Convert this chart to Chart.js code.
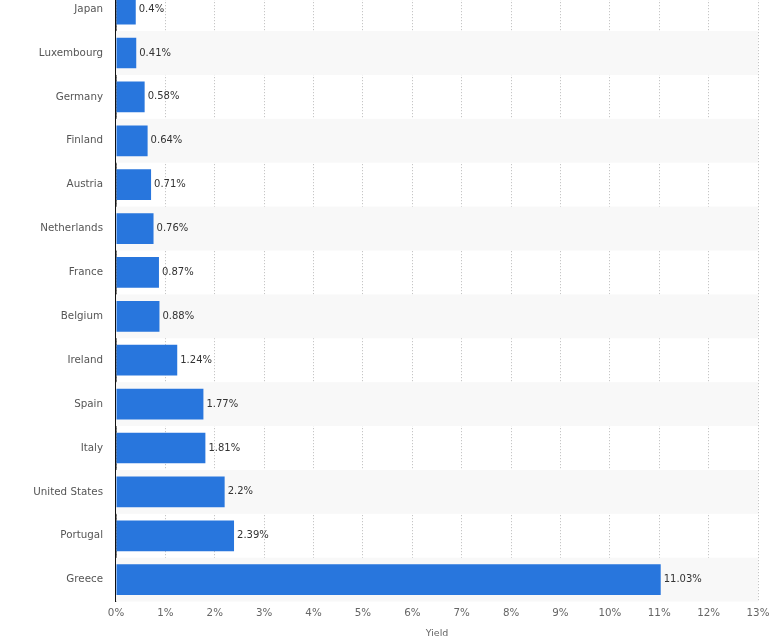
<!DOCTYPE html>
<html>
<head>
<meta charset="utf-8">
<script src="https://cdn.jsdelivr.net/npm/chart.js@4/dist/chart.umd.min.js"></script>
<style>
  html, body { margin:0; padding:0; background:#fff; overflow:hidden; width:784px; height:637px; }
  #wrap { position:absolute; left:0; top:-32px; width:784px; height:671px; }
</style>
</head>
<body>
<div id="wrap"><canvas id="c" width="784" height="671"></canvas></div>
<script>
const countries = ['Japan','Luxembourg','Germany','Finland','Austria','Netherlands','France','Belgium','Ireland','Spain','Italy','United States','Portugal','Greece'];
const yields = [0.4, 0.41, 0.58, 0.64, 0.71, 0.76, 0.87, 0.88, 1.24, 1.77, 1.81, 2.2, 2.39, 11.03];
const xMax = 13;
const FONT = '"DejaVu Sans", Verdana, sans-serif';

// alternating row stripes behind the bars
const stripes = {
  id:'stripes',
  beforeDatasetsDraw(chart){
    const {ctx, chartArea, scales:{y}} = chart;
    const band = Math.abs(y.getPixelForValue(1) - y.getPixelForValue(0));
    ctx.save();
    ctx.fillStyle = '#f8f8f8';
    countries.forEach((c,i)=>{
      if(i % 2 === 1){
        const cy = y.getPixelForValue(i);
        ctx.fillRect(chartArea.left, cy - band/2, chartArea.right - chartArea.left, band);
      }
    });
    ctx.restore();
  }
};

// value labels at bar ends
const valueLabels = {
  id:'valueLabels',
  afterDatasetsDraw(chart){
    const {ctx} = chart;
    const meta = chart.getDatasetMeta(0);
    ctx.save();
    ctx.font = '10px ' + FONT;
    ctx.fillStyle = '#333';
    ctx.textAlign = 'left';
    ctx.textBaseline = 'middle';
    meta.data.forEach((bar,i)=>{
      ctx.fillText(yields[i] + '%', bar.x + 3, bar.y);
    });
    ctx.restore();
  }
};

new Chart(document.getElementById('c').getContext('2d'), {
  type:'bar',
  data:{labels:countries, datasets:[{data:yields, backgroundColor:'#2876dd', borderWidth:0, barPercentage:0.7, categoryPercentage:1}]},
  options:{
    indexAxis:'y',
    responsive:false,
    animation:false,
    layout:{padding:{left:0, right:26, top:0, bottom:0}},
    plugins:{legend:{display:false}, tooltip:{enabled:false}},
    scales:{
      x:{
        min:0, max:xMax,
        afterFit(s){ s.height = 37.4; },
        ticks:{stepSize:1, padding:6, color:'#666', font:{size:10.3, family:FONT}, callback:v=>v+'%'},
        grid:{color:'#bbb', drawTicks:false, lineWidth:1},
        border:{display:false, dash:[1,2]},
        title:{display:true, text:'Yield', color:'#666', font:{size:9.5, family:FONT}, padding:{top:0, bottom:0}}
      },
      y:{
        afterFit(s){ s.width = 116; },
        ticks:{padding:13, color:'#555', font:{size:10.3, family:FONT}},
        grid:{display:false, drawTicks:false},
        border:{display:true, color:'#111', width:1.5}
      }
    }
  },
  plugins:[stripes, valueLabels]
});
</script>
</body>
</html>
